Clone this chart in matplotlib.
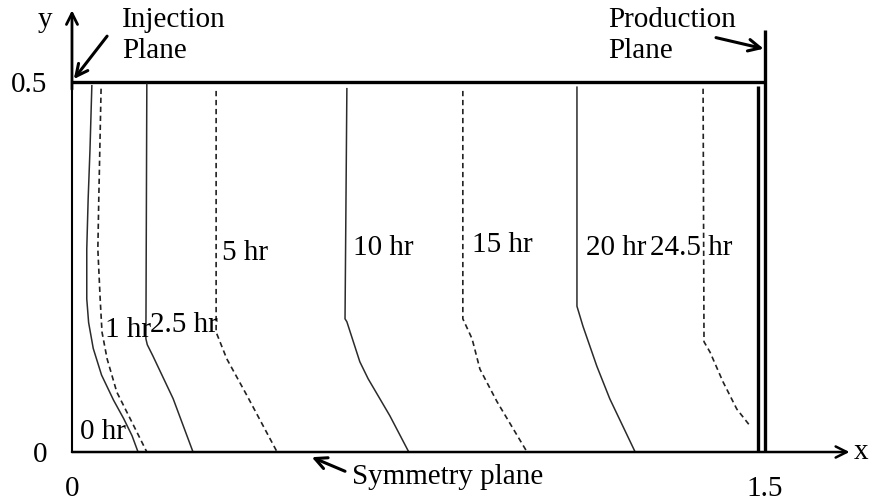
import matplotlib
matplotlib.use("Agg")
import matplotlib.pyplot as plt

plt.rcParams['font.family'] = ['Liberation Serif', 'DejaVu Serif']

# ---- data (x: distance, y: height) ----
labels = ['0 hr', '1 hr', '2.5 hr', '5 hr', '10 hr', '15 hr', '20 hr', '24.5 hr']
dashed = [False, True, False, True, False, True, False, True]

x_0hr = [0.043, 0.039, 0.035, 0.032, 0.032, 0.036, 0.046, 0.064, 0.090, 0.112, 0.130, 0.143]
y_0hr = [0.495, 0.409, 0.342, 0.274, 0.207, 0.175, 0.140, 0.104, 0.070, 0.045, 0.022, 0.0]

x_1hr = [0.063, 0.058, 0.056, 0.061, 0.065, 0.076, 0.097, 0.126, 0.162]
y_1hr = [0.491, 0.342, 0.274, 0.207, 0.162, 0.126, 0.081, 0.045, 0.0]

x_2p5hr = [0.162, 0.160, 0.163, 0.175, 0.219, 0.262]
y_2p5hr = [0.497, 0.153, 0.145, 0.130, 0.072, 0.0]

x_5hr = [0.312, 0.312, 0.335, 0.379, 0.444]
y_5hr = [0.488, 0.162, 0.126, 0.076, 0.0]

x_10hr = [0.595, 0.591, 0.595, 0.623, 0.641, 0.688, 0.729]
y_10hr = [0.491, 0.180, 0.176, 0.122, 0.099, 0.049, 0.0]

x_15hr = [0.846, 0.846, 0.866, 0.883, 0.920, 0.985]
y_15hr = [0.488, 0.180, 0.153, 0.112, 0.068, 0.0]

x_20hr = [1.093, 1.093, 1.106, 1.136, 1.164, 1.219]
y_20hr = [0.493, 0.197, 0.170, 0.116, 0.072, 0.0]

x_24p5hr = [1.366, 1.368, 1.381, 1.409, 1.439, 1.468]
y_24p5hr = [0.491, 0.149, 0.135, 0.095, 0.058, 0.035]

curves_x = [x_0hr, x_1hr, x_2p5hr, x_5hr, x_10hr, x_15hr, x_20hr, x_24p5hr]
curves_y = [y_0hr, y_1hr, y_2p5hr, y_5hr, y_10hr, y_15hr, y_20hr, y_24p5hr]

# label anchor positions (left edge, vertical centre)
label_x = [0.017, 0.071, 0.169, 0.325, 0.608, 0.866, 1.113, 1.251]
label_y = [0.028, 0.166, 0.173, 0.270, 0.277, 0.281, 0.277, 0.277]

x_max = 1.5
y_max = 0.5
x_inner = 1.485

fig = plt.figure(figsize=(8.78, 5.02), dpi=100)
ax = fig.add_axes([0, 0, 1, 1])
ax.set_xlim(-0.1558, 1.7446)
ax.set_ylim(-0.0662, 0.6122)
ax.axis('off')

FS = 21
lc = '#2b2b2b'

# domain lines
ax.plot([0, x_max], [y_max, y_max], color='black', lw=2.4, solid_capstyle='butt')
ax.plot([0, 0], [0, y_max], color='black', lw=1.5)
ax.plot([x_max, x_max], [0, 0.570], color='black', lw=2.4, solid_capstyle='butt')
ax.plot([x_inner, x_inner], [0, 0.494], color='black', lw=2.4, solid_capstyle='butt')

# axes arrows
ax.annotate('', xy=(0, 0.597), xytext=(0, 0.49),
            arrowprops=dict(arrowstyle='->,head_length=0.8,head_width=0.4', lw=2.0, color='black',
                            shrinkA=0, shrinkB=0))
ax.annotate('', xy=(1.683, 0), xytext=(0, 0),
            arrowprops=dict(arrowstyle='->,head_length=0.8,head_width=0.4', lw=1.8, color='black',
                            shrinkA=0, shrinkB=0))

# curves
for xs, ys, d in zip(curves_x, curves_y, dashed):
    if d:
        ax.plot(xs, ys, color='#222222', lw=1.2, dashes=(3.2, 2.2))
    else:
        ax.plot(xs, ys, color=lc, lw=1.1)

for lab, lx, ly in zip(labels, label_x, label_y):
    ax.text(lx, ly, lab, fontsize=FS, ha='left', va='center')

# tick labels / axis names
ax.text(-0.093, 0.497, '0.5', fontsize=FS, ha='center', va='center')
ax.text(-0.069, -0.003, '0', fontsize=FS, ha='center', va='center')
ax.text(0, -0.048, '0', fontsize=FS, ha='center', va='center')
ax.text(1.5, -0.048, '1.5', fontsize=FS, ha='center', va='center')
ax.text(-0.058, 0.585, 'y', fontsize=FS, ha='center', va='center')
ax.text(1.708, 0.002, 'x', fontsize=FS, ha='center', va='center')

# annotations
arrow_kw = dict(arrowstyle='->,head_length=0.85,head_width=0.42', lw=2.2, color='black',
                shrinkA=0, shrinkB=0)
ax.text(0.108, 0.603, 'Injection\nPlane', fontsize=FS, ha='left', va='top', linespacing=1.25)
ax.annotate('', xy=(0.004, 0.504), xytext=(0.076, 0.562), arrowprops=arrow_kw)
ax.text(1.160, 0.603, 'Production\nPlane', fontsize=FS, ha='left', va='top', linespacing=1.25)
ax.annotate('', xy=(1.497, 0.545), xytext=(1.394, 0.560), arrowprops=arrow_kw)
ax.text(0.606, -0.033, 'Symmetry plane', fontsize=FS, ha='left', va='center')
ax.annotate('', xy=(0.519, -0.007), xytext=(0.591, -0.026), arrowprops=arrow_kw)

fig.savefig('out.png', dpi=100)
